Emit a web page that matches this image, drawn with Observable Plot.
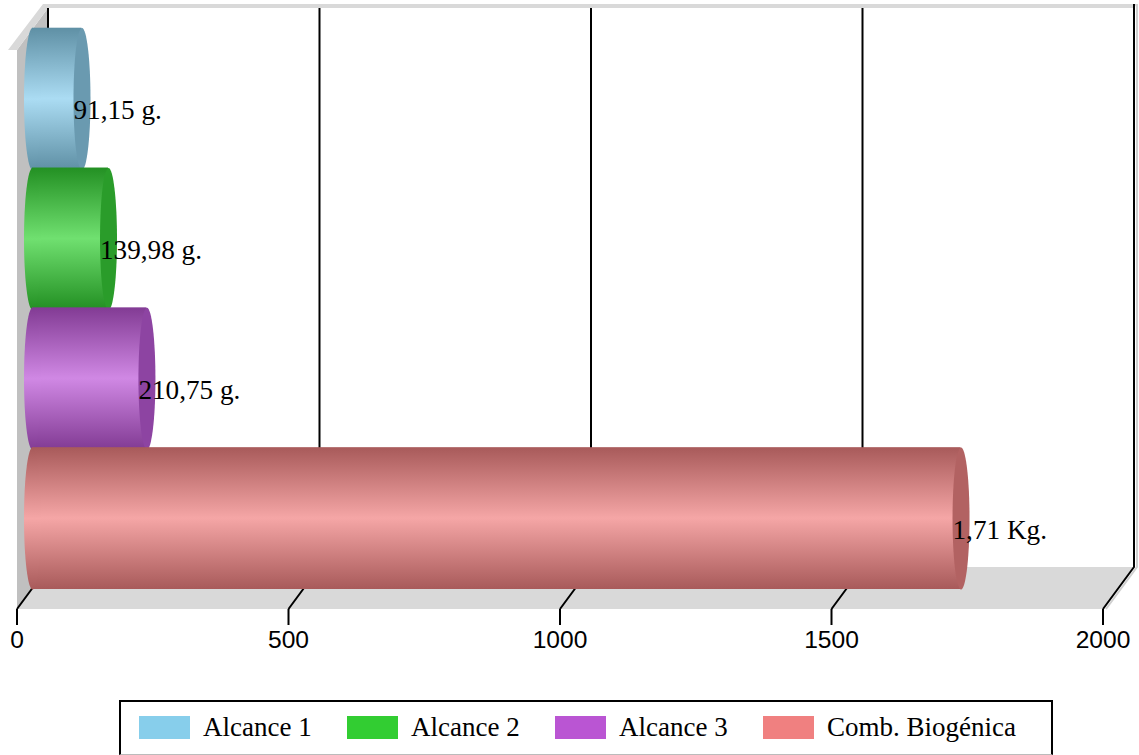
<!DOCTYPE html>
<html lang="es">
<head>
<meta charset="utf-8">
<script src="https://cdn.jsdelivr.net/npm/d3@7"></script>
<script src="https://cdn.jsdelivr.net/npm/@observablehq/plot@0.6"></script>
<style>
  html, body { margin: 0; padding: 0; background: #fff; overflow: hidden; }
  #chart svg { display: block; }
  #legend {
    box-sizing: border-box; margin-left: 119px; width: 934px; height: 55px;
    border: 2px solid #000; border-bottom: 1px solid #bbb;
    display: flex; align-items: center; padding-left: 18px; padding-bottom: 1px;
    font: 27px "Liberation Serif", serif; color: #000;
  }
  #legend span.sw { width: 51px; height: 23px; margin-right: 13px; flex: none; }
  #legend span.tx { width: 144px; flex: none; white-space: nowrap; }
</style>
</head>
<body>
<div id="chart"></div>
<div id="legend"></div>
<script>
// Series: distance ranges and the biogenic fuel, with amounts in grams.
const categories = ["Alcance 1", "Alcance 2", "Alcance 3", "Comb. Biogénica"];
const amounts = [91.15, 139.98, 210.75, 1710];
const amountLabels = ["91,15 g.", "139,98 g.", "210,75 g.", "1,71 Kg."];
const xTicks = [0, 500, 1000, 1500, 2000];

// Swatch colour, then cylinder shading: edge, highlight, end cap.
const baseColors = ["#87ceeb", "#32cd32", "#ba55d3", "#f08080"];
const edgeColors = ["#5f90a5", "#239023", "#823b94", "#a85a5a"];
const glowColors = ["#abdcf3", "#70e070", "#d088e4", "#f5a6a6"];
const capColors = ["#6a9ab0", "#2a9c2a", "#8d44a2", "#b26262"];

const width = 1139, height = 700;
const frontFloor = 609;                // y of the front edge of the floor
const backFloor = 567;                 // y of the back edge of the floor
const wallTop = 8, wallFront = 50;     // y of the top of the back and left walls
const depth = 31;                      // horizontal shift from front to back plane
const midDepth = 15;                   // cylinders stand halfway between the planes
const capRx = 8.5, capRy = 71;

const rows = categories.map((category, i) => ({
  category, amount: amounts[i], label: amountLabels[i],
  body: `url(#shade${i})`, cap: capColors[i]
}));

// Vertical ellipse used for both ends of each cylinder.
const capSymbol = {
  draw(ctx) {
    const k = 0.5523;
    ctx.moveTo(0, -capRy);
    ctx.bezierCurveTo(capRx * k, -capRy, capRx, -capRy * k, capRx, 0);
    ctx.bezierCurveTo(capRx, capRy * k, capRx * k, capRy, 0, capRy);
    ctx.bezierCurveTo(-capRx * k, capRy, -capRx, capRy * k, -capRx, 0);
    ctx.bezierCurveTo(-capRx, -capRy * k, -capRx * k, -capRy, 0, -capRy);
    ctx.closePath();
  }
};

// Linear shading definitions for the cylinder bodies.
const gradients = () => {
  const defs = d3.create("svg:defs");
  categories.forEach((_, i) => {
    const g = defs.append("linearGradient").attr("id", `shade${i}`)
      .attr("x1", 0).attr("x2", 0).attr("y1", 0).attr("y2", 1);
    [[0, edgeColors[i]], [0.5, glowColors[i]], [1, edgeColors[i]]].forEach(([o, c]) =>
      g.append("stop").attr("offset", o).attr("stop-color", c));
  });
  return defs.node();
};

// The box behind the cylinders: walls, floor, and grid lines on the back plane.
const box = (index, {x}) => {
  const g = d3.create("svg:g");
  const x0 = x(xTicks[0]), x1 = x(xTicks[xTicks.length - 1]);
  const poly = (pts, fill) => g.append("polygon").attr("points", pts.join(" ")).attr("fill", fill);
  poly([[x0, wallFront], [x0 + depth, wallTop], [x0 + depth, backFloor], [x0, frontFloor]], "#c0c0c0");
  poly([[x0, frontFloor], [x0 + depth, backFloor], [x1 + depth, backFloor], [x1, frontFloor]], "#d9d9d9");
  poly([[x0 - 9, wallFront], [x0 + depth - 5, wallTop - 4], [x1 + depth + 3, wallTop - 4],
        [x1 + depth, wallTop], [x0 + depth, wallTop], [x0, wallFront]], "#d9d9d9");
  // Soft edge along the right of the box.
  g.append("polyline")
    .attr("points", [[x1 + 3, frontFloor], [x1 + depth + 3, backFloor], [x1 + depth + 3, wallTop - 4]].join(" "))
    .attr("fill", "none").attr("stroke", "#d0d0d0").attr("stroke-width", 2);
  for (const t of xTicks) {
    g.append("polyline")
      .attr("points", [[x(t), frontFloor], [x(t) + depth, backFloor], [x(t) + depth, wallTop - (t === 2000 ? 4 : 0)]].join(" "))
      .attr("fill", "none").attr("stroke", "#000").attr("stroke-width", 2);
  }
  return g.node();
};

const cylinders = rows.flatMap(row => [
  Plot.barX([row], {
    x1: () => 0, x2: "amount", y: "category", fill: "body", dx: midDepth,
    insetTop: -1, insetBottom: -1
  }),
  Plot.dot([row], {x: () => 0, y: "category", r: 1, symbol: capSymbol, fill: "body", stroke: "none", dx: midDepth}),
  Plot.dot([row], {x: "amount", y: "category", r: 1, symbol: capSymbol, fill: "cap", stroke: "none", dx: midDepth})
]);

const chart = Plot.plot({
  width, height,
  marginLeft: 17, marginRight: width - 1103, marginTop: 0, marginBottom: height - frontFloor,
  style: {background: "#fff", overflow: "visible"},
  x: {domain: [0, 2000], range: [17, 1103]},
  y: {type: "band", domain: categories, range: [28.7, 588], padding: 0, round: false, axis: null},
  color: {type: "identity"},
  marks: [
    gradients,
    box,
    ...cylinders,
    Plot.text(rows, {
      x: "amount", y: "category", text: "label", textAnchor: "start",
      dx: midDepth - capRx, dy: 11.5, fill: "#000",
      fontFamily: "Liberation Serif, serif", fontSize: 27.2
    }),
    Plot.axisX({
      ticks: xTicks, label: null, tickSize: 16, tickPadding: 5, strokeWidth: 2, stroke: "#000",
      fontFamily: "Liberation Sans, sans-serif", fontSize: 24.6, fill: "#000", tickFormat: d => String(d), dx: -0.5
    })
  ]
});
document.getElementById("chart").append(chart);

// Legend row below the chart.
const legend = d3.select("#legend");
categories.forEach((c, i) => {
  legend.append("span").attr("class", "sw").style("background", baseColors[i]);
  legend.append("span").attr("class", "tx").text(c);
});
</script>
</body>
</html>
